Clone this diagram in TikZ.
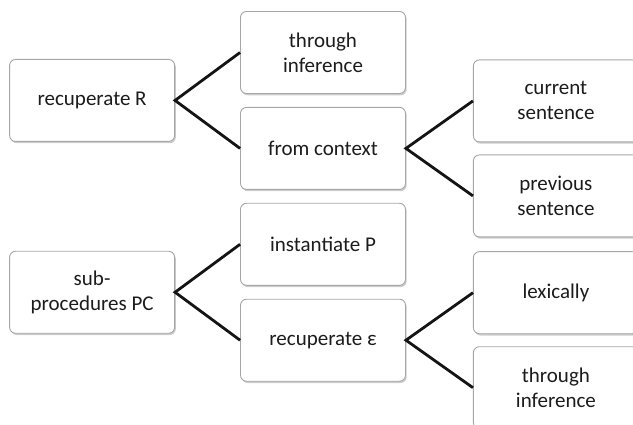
\documentclass[tikz,border=0pt]{standalone}
\usepackage{fontspec}
\setmainfont{Carlito}
\usepackage{tikz}
\usetikzlibrary{positioning, calc, shadows}
\definecolor{boxedge}{HTML}{A6A6A6}
\definecolor{linkdark}{HTML}{141414}
\definecolor{textdark}{HTML}{1C1C1C}

\begin{document}
\begin{tikzpicture}[node distance=13pt and 65pt, font=\fontsize{21}{25}\selectfont]
    \tikzstyle{choice} = [rectangle, rounded corners=6pt, minimum width=165pt, minimum height=82pt, align=center, draw=boxedge, line width=0.9pt, fill=white, text=textdark, drop shadow={shadow xshift=1.2pt, shadow yshift=-1.8pt, opacity=0.4}]
    \tikzstyle{link} = [line width=2.8pt, linkdark]

    \useasboundingbox (0,0) rectangle (633pt,424pt);

    \node (thrInfA) [choice] at (323pt,371.5pt) {through\\inference};
    \node (fromCtx) [choice, below=of thrInfA] {from context};
    \node (instP) [choice, below=of fromCtx] {instantiate P};
    \node (recEps) [choice, below=of instP] {recuperate ε};

    \coordinate (midTop) at ($(thrInfA.west)!0.5!(fromCtx.west)$);
    \coordinate (midBot) at ($(instP.west)!0.5!(recEps.west)$);
    \node (recR) [choice, left=65pt of midTop] {recuperate R};
    \node (subPC) [choice, left=65pt of midBot] {sub-\\procedures PC};

    \node (curSent) [choice, right=67pt of fromCtx, yshift=47.5pt] {current\\sentence};
    \node (prevSent) [choice, right=67pt of fromCtx, yshift=-47.5pt] {previous\\sentence};
    \node (lexic) [choice, right=67pt of recEps, yshift=47.5pt] {lexically};
    \node (thrInfB) [choice, right=67pt of recEps, yshift=-47.5pt] {through\\inference};

    \draw [link] (thrInfA.west) -- (recR.east) -- (fromCtx.west);
    \draw [link] (curSent.west) -- (fromCtx.east) -- (prevSent.west);
    \draw [link] (instP.west) -- (subPC.east) -- (recEps.west);
    \draw [link] (lexic.west) -- (recEps.east) -- (thrInfB.west);
\end{tikzpicture}
\end{document}
